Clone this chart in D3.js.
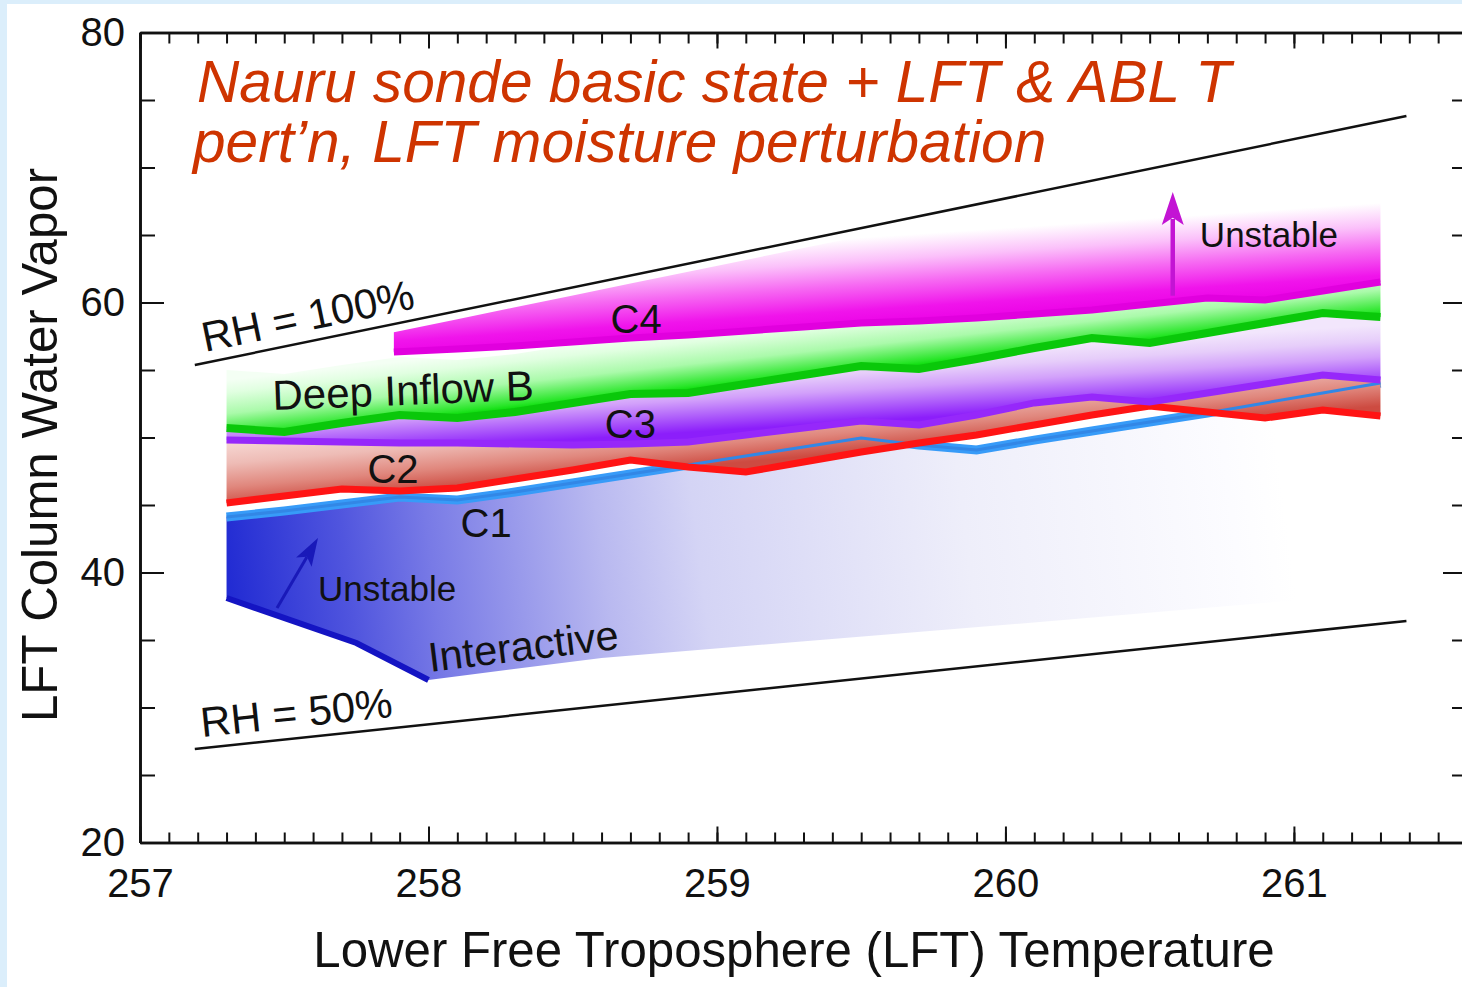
<!DOCTYPE html>
<html>
<head>
<meta charset="utf-8">
<script src="https://cdn.jsdelivr.net/npm/d3@7"></script>
<style>
  html, body { margin: 0; padding: 0; background: #dbeefb; }
  svg { display: block; }
</style>
</head>
<body>
<svg id="chart" width="1462" height="987"></svg>
<script>
// ---- data ---------------------------------------------------------------
// LFT temperature grid (K) shared by the stability contours
const temps = [257.3, 257.5, 257.7, 257.9, 258.1, 258.3, 258.5, 258.7, 258.9, 259.1, 259.3,
               259.5, 259.7, 259.9, 260.1, 260.3, 260.5, 260.7, 260.9, 261.1, 261.3];
// LFT column water vapor along each contour
const c1Vapor = [44.11, 44.56, 45.07, 45.59, 45.37, 45.96, 46.63, 47.30, 47.96, 48.63, 49.30,
                 49.96, 49.44, 49.07, 49.81, 50.48, 51.15, 51.81, 52.56, 53.30, 54.04];
const c2Vapor = [45.15, 45.67, 46.19, 46.04, 46.26, 46.93, 47.59, 48.33, 47.81, 47.44, 48.19,
                 48.93, 49.59, 50.19, 50.93, 51.67, 52.33, 51.89, 51.44, 52.04, 51.59];
const c3Vapor = [49.81, 49.74, 49.67, 49.59, 49.59, 49.52, 49.44, 49.52, 49.67, 50.19, 50.70,
                 51.22, 50.93, 51.67, 52.56, 53.00, 52.63, 53.30, 53.96, 54.63, 54.26];
const deepInflowVapor = [50.70, 50.41, 51.07, 51.67, 51.44, 51.89, 52.56, 53.22, 53.30, 53.96, 54.63,
                         55.30, 55.07, 55.81, 56.63, 57.37, 57.00, 57.74, 58.48, 59.22, 58.93];
// C4 starts further right
const c4Temps = [257.88, 258.1, 258.3, 258.5, 258.7, 258.9, 259.1, 259.3, 259.5, 259.7,
                 259.9, 260.1, 260.3, 260.5, 260.7, 260.9, 261.1, 261.3];
const c4Vapor = [56.33, 56.56, 56.78, 57.07, 57.37, 57.59, 57.89, 58.19, 58.48, 58.63,
                 58.85, 59.15, 59.44, 59.89, 60.33, 60.19, 60.85, 61.52];
// lower edge of the interactive (unstable) region
const interactiveTemps = [257.3, 257.75, 258.0, 258.6, 260.2, 261.3];
const interactiveLow   = [38.11, 34.78, 32.04, 33.67, 36.48, 38.48];
// relative-humidity reference lines
const rhTemps = [257.19, 261.39];
const rh100 = [55.37, 73.81];
const rh50  = [26.93, 36.41];
// axis ticks
const xTickLabels = [257, 258, 259, 260, 261];
const yTickLabels = [20, 40, 60, 80];

// ---- layout -------------------------------------------------------------
const W = 1462, H = 987;
const FONT = "'Liberation Sans', Arial, Helvetica, sans-serif";
const svg = d3.select("#chart");

svg.append("rect").attr("width", W).attr("height", H).attr("fill", "#dbeefb");
svg.append("rect").attr("x", 7).attr("y", 4).attr("width", W - 7).attr("height", H - 4).attr("fill", "#ffffff");

const x = d3.scaleLinear().domain([257, 261.6]).range([140, 1467]);
const y = d3.scaleLinear().domain([20, 80]).range([842.5, 32.5]);
const rhAt = d3.scaleLinear().domain(rhTemps).range(rh100);

const defs = svg.append("defs");

// gradient running perpendicular to the overall slope of a contour
function bandGradient(id, pts, depth, stops, below = 4) {
  const mx = d3.mean(pts, p => p[0]), my = d3.mean(pts, p => p[1]);
  let sxx = 0, sxy = 0;
  pts.forEach(p => { sxx += (p[0] - mx) ** 2; sxy += (p[0] - mx) * (p[1] - my); });
  const b = sxy / sxx, len = Math.hypot(1, b);
  const nx = b / len, ny = -1 / len;            // upward normal
  const g = defs.append("linearGradient").attr("id", id)
    .attr("gradientUnits", "userSpaceOnUse")
    .attr("x1", mx - nx * below).attr("y1", my - ny * below)
    .attr("x2", mx + nx * depth).attr("y2", my + ny * depth);
  stops.forEach(([o, c]) => g.append("stop").attr("offset", o).attr("stop-color", c));
}

const px = (ts, vs) => ts.map((t, i) => [x(t), y(vs[i])]);

bandGradient("gC2", px(temps, c2Vapor), 63, [
  [0, "rgb(205,75,65)"], [0.3, "rgb(224,135,125)"], [0.65, "rgb(238,188,182)"], [1, "rgb(247,218,214)"]]);
bandGradient("gC3", px(temps, c3Vapor), 60, [
  [0, "rgb(140,30,250)"], [0.25, "rgb(175,95,250)"], [0.5, "rgb(210,160,250)"],
  [0.75, "rgb(230,205,250)"], [1, "rgb(242,230,252)"]]);
bandGradient("gDeep", px(temps, deepInflowVapor), 57, [
  [0, "rgb(0,215,0)"], [0.1, "rgb(40,230,40)"], [0.45, "rgb(170,250,170)"],
  [0.8, "rgb(225,255,225)"], [1, "rgb(244,255,244)"]]);
bandGradient("gC4", px(c4Temps, c4Vapor), 90, [
  [0, "rgb(235,0,230)"], [0.18, "rgb(240,20,235)"], [0.45, "rgb(246,105,242)"],
  [0.7, "rgb(251,192,250)"], [0.95, "rgb(255,255,255)"]]);

// interactive region fades from deep blue at lower left to white at the right
const gi = defs.append("linearGradient").attr("id", "gInter").attr("gradientUnits", "userSpaceOnUse")
  .attr("x1", x(257.28)).attr("y1", y(38.0)).attr("x2", x(260.95)).attr("y2", y(48.0));
[[0, "rgb(30,40,210)"], [0.12, "rgb(80,85,222)"], [0.2, "rgb(120,122,230)"],
 [0.36, "rgb(185,185,240)"], [0.45, "rgb(212,212,245)"], [0.7, "rgb(238,238,250)"],
 [0.95, "rgb(252,252,255)"], [1, "rgb(255,255,255)"]]
  .forEach(([o, c]) => gi.append("stop").attr("offset", o).attr("stop-color", c));

const idx = d3.range(temps.length);
const lineOf = (ts, vs) => d3.line().x(i => x(ts[i])).y(i => y(vs[i]))(d3.range(ts.length));
const plot = svg.append("g");

// interactive region between C1 and its lower edge
const interPoly = temps.map((t, i) => [t, c1Vapor[i]])
  .concat(interactiveTemps.map((t, i) => [t, interactiveLow[i]]).reverse());
plot.append("path")
  .attr("d", d3.line().x(d => x(d[0])).y(d => y(d[1]))(interPoly) + "Z")
  .attr("fill", "url(#gInter)");

// C1 (thick, partly covered by the C2 band)
plot.append("path").attr("d", lineOf(temps, c1Vapor))
  .attr("fill", "none").attr("stroke", "rgb(55,155,248)").attr("stroke-width", 9);

// C2 band up to C3
plot.append("path")
  .attr("d", d3.area().x(i => x(temps[i])).y0(i => y(c2Vapor[i])).y1(i => y(c3Vapor[i]))(idx))
  .attr("fill", "url(#gC2)");

// C1 thin overlay
plot.append("path").attr("d", lineOf(temps, c1Vapor))
  .attr("fill", "none").attr("stroke", "rgb(50,135,230)").attr("stroke-width", 3);

// C3 band up to Deep Inflow B
plot.append("path")
  .attr("d", d3.area().x(i => x(temps[i])).y0(i => y(c3Vapor[i])).y1(i => y(deepInflowVapor[i]))(idx))
  .attr("fill", "url(#gC3)");

// Deep Inflow B band
plot.append("path")
  .attr("d", d3.area().x(i => x(temps[i])).y0(i => y(deepInflowVapor[i]))
    .y1(i => y(Math.min(deepInflowVapor[i] + 4.3, rhAt(temps[i]) - 0.5)))(idx))
  .attr("fill", "url(#gDeep)");

// C4 band, bounded by saturation
const idx4 = d3.range(c4Temps.length);
plot.append("path")
  .attr("d", d3.area().x(i => x(c4Temps[i])).y0(i => y(c4Vapor[i]))
    .y1(i => y(Math.min(rhAt(c4Temps[i]) - 0.6, c4Vapor[i] + 7)))(idx4))
  .attr("fill", "url(#gC4)");

// contour lines
const strokeLine = (ts, vs, color, w) => plot.append("path").attr("d", lineOf(ts, vs))
  .attr("fill", "none").attr("stroke", color).attr("stroke-width", w)
  .attr("stroke-linejoin", "miter").attr("stroke-linecap", "butt");
strokeLine(temps, c2Vapor, "rgb(255,20,20)", 7);
strokeLine(temps, c3Vapor, "rgb(150,40,250)", 7);
strokeLine(temps, deepInflowVapor, "rgb(10,200,10)", 8);
strokeLine(c4Temps, c4Vapor, "rgb(225,0,222)", 7);
strokeLine(interactiveTemps.slice(0, 3), interactiveLow.slice(0, 3), "rgb(20,20,195)", 6);

// RH reference lines
strokeLine(rhTemps, rh100, "#111", 2.5);
strokeLine(rhTemps, rh50, "#111", 2.5);

// ---- arrows ---------------------------------------------------------------
function arrow(t0, v0, t1, v1, color, shaftW, L, w) {
  const x0 = x(t0), y0 = y(v0), x1 = x(t1), y1 = y(v1);
  const dx = x1 - x0, dy = y1 - y0, len = Math.hypot(dx, dy), ux = dx / len, uy = dy / len;
  const bx = x1 - ux * L, by = y1 - uy * L;
  plot.append("line").attr("x1", x0).attr("y1", y0).attr("x2", bx + ux * 6).attr("y2", by + uy * 6)
    .attr("stroke", color).attr("stroke-width", shaftW);
  const nx = bx + ux * L * 0.22, ny = by + uy * L * 0.22;
  plot.append("path")
    .attr("d", `M${x1},${y1}L${bx - uy * w},${by + ux * w}L${nx},${ny}L${bx + uy * w},${by - ux * w}Z`)
    .attr("fill", color);
}
arrow(257.475, 37.37, 257.617, 42.56, "rgb(25,25,185)", 3, 28, 9);
arrow(260.58, 60.5, 260.58, 68.19, "rgb(195,20,212)", 4.5, 33, 11);

// ---- labels ---------------------------------------------------------------
function label(t, v, text, size, rot = 0, anchor = "start") {
  plot.append("text")
    .attr("transform", `translate(${x(t)},${y(v)}) rotate(${rot})`)
    .attr("text-anchor", anchor)
    .attr("font-family", FONT).attr("font-size", size).attr("fill", "#111")
    .text(text);
}
label(257.225, 56.33, "RH = 100%", 42, -11.7);
label(257.215, 27.81, "RH = 50%", 42, -6);
label(257.461, 52.04, "Deep Inflow B", 42, -2.2);
label(258.72, 57.74, "C4", 40, 0, "middle");
label(258.70, 49.96, "C3", 40, 0, "middle");
label(257.877, 46.63, "C2", 40, 0, "middle");
label(258.20, 42.63, "C1", 40, 0, "middle");
label(257.617, 37.89, "Unstable", 35);
label(258.005, 32.63, "Interactive", 41.5, -7);
label(260.674, 64.11, "Unstable", 35);

// title
const title = svg.append("g").attr("font-family", FONT).attr("font-style", "italic")
  .attr("font-size", 58.6).attr("fill", "rgb(206,52,0)");
title.append("text").attr("x", 197).attr("y", 102).text("Nauru sonde basic state + LFT & ABL T");
title.append("text").attr("x", 193).attr("y", 162).text("pert\u2019n, LFT moisture perturbation");

// ---- axes -----------------------------------------------------------------
const xMinor = d3.range(0, 47).map(i => 257 + i / 10);
const yMinor = d3.range(20, 81, 5);

function styleAxis(g, w) {
  g.select(".domain").attr("stroke", "#111").attr("stroke-width", w);
  g.selectAll(".tick line").attr("stroke", "#111").attr("stroke-width", 2);
}

// bottom
svg.append("g").attr("transform", `translate(0,${y(20)})`)
  .call(d3.axisBottom(x).tickValues(xMinor).tickSize(-10).tickSizeOuter(0).tickFormat(""))
  .call(g => styleAxis(g, 2.6));
svg.append("g").attr("transform", `translate(0,${y(20)})`)
  .call(d3.axisBottom(x).tickValues(xTickLabels).tickSize(-16).tickSizeOuter(0).tickPadding(26).tickFormat(d3.format("d")))
  .call(g => styleAxis(g, 2.6))
  .call(g => g.selectAll("text").attr("font-family", FONT).attr("font-size", 40).attr("fill", "#111"));
// top
svg.append("g").attr("transform", `translate(0,${y(80)})`)
  .call(d3.axisTop(x).tickValues(xMinor).tickSize(-11).tickSizeOuter(0).tickFormat(""))
  .call(g => styleAxis(g, 2.6));
svg.append("g").attr("transform", `translate(0,${y(80)})`)
  .call(d3.axisTop(x).tickValues(xTickLabels).tickSize(-16).tickSizeOuter(0).tickFormat(""))
  .call(g => styleAxis(g, 2.6));
// left
svg.append("g").attr("transform", `translate(${x(257)},0)`)
  .call(d3.axisLeft(y).tickValues(yMinor).tickSize(-15).tickSizeOuter(0).tickFormat(""))
  .call(g => styleAxis(g, 2.6));
svg.append("g").attr("transform", `translate(${x(257)},0)`)
  .call(d3.axisLeft(y).tickValues(yTickLabels).tickSize(-24).tickSizeOuter(0).tickPadding(15).tickFormat(d3.format("d")))
  .call(g => styleAxis(g, 2.6))
  .call(g => g.selectAll("text").attr("font-family", FONT).attr("font-size", 40).attr("fill", "#111"));
// right
svg.append("g").attr("transform", `translate(${x(261.6)},0)`)
  .call(d3.axisRight(y).tickValues(yMinor).tickSize(-15).tickSizeOuter(0).tickFormat(""))
  .call(g => styleAxis(g, 2.6));
svg.append("g").attr("transform", `translate(${x(261.6)},0)`)
  .call(d3.axisRight(y).tickValues(yTickLabels).tickSize(-24).tickSizeOuter(0).tickFormat(""))
  .call(g => styleAxis(g, 2.6));

// axis titles
svg.append("text").attr("x", 794).attr("y", 967).attr("text-anchor", "middle")
  .attr("font-family", FONT).attr("font-size", 49.2).attr("fill", "#111")
  .text("Lower Free Troposphere (LFT) Temperature");
svg.append("text").attr("transform", "translate(57,445) rotate(-90)").attr("text-anchor", "middle")
  .attr("font-family", FONT).attr("font-size", 49.2).attr("fill", "#111")
  .text("LFT Column Water Vapor");
</script>
</body>
</html>
